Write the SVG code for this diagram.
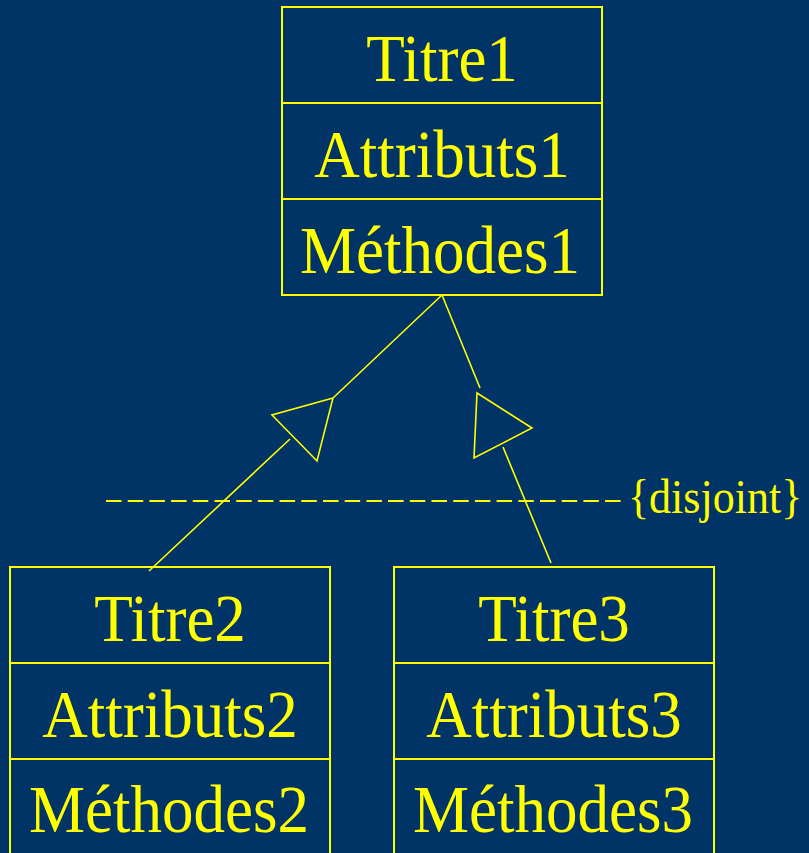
<svg xmlns="http://www.w3.org/2000/svg" width="809" height="853" viewBox="0 0 809 853">
  <style>
    .box { fill: none; stroke: #ffff00; stroke-width: 2; }
    .lbl { font-family: "Liberation Serif", "Times New Roman", serif; font-size: 63px; fill: #ffff00; text-anchor: middle; }
    .conn { fill: none; stroke: #ffff00; stroke-width: 1.6; }
    .dash { fill: none; stroke: #ffff00; stroke-width: 2.2; stroke-dasharray: 15.5 6.2; }
    .note { font-family: "Liberation Serif", "Times New Roman", serif; font-size: 44px; fill: #ffff00; }
  </style>
  <rect x="0" y="0" width="809" height="853" fill="#003366"/>

  <!-- Parent class -->
  <g id="class1">
    <rect class="box" x="282" y="7" width="320" height="288"/>
    <line class="box" x1="282" y1="103" x2="602" y2="103"/>
    <line class="box" x1="282" y1="199" x2="602" y2="199"/>
    <text class="lbl" transform="translate(442,81) scale(1,1.07)">Titre1</text>
    <text class="lbl" transform="translate(442,177) scale(1,1.07)">Attributs1</text>
    <text class="lbl" transform="translate(440,273) scale(1,1.07)">Méthodes1</text>
  </g>

  <!-- Subclass 2 -->
  <g id="class2">
    <rect class="box" x="10" y="567" width="320" height="300"/>
    <line class="box" x1="10" y1="663" x2="330" y2="663"/>
    <line class="box" x1="10" y1="759" x2="330" y2="759"/>
    <text class="lbl" transform="translate(170,641) scale(1,1.07)">Titre2</text>
    <text class="lbl" transform="translate(170,737) scale(1,1.07)">Attributs2</text>
    <text class="lbl" transform="translate(169,832) scale(1,1.07)">Méthodes2</text>
  </g>

  <!-- Subclass 3 -->
  <g id="class3">
    <rect class="box" x="394" y="567" width="320" height="300"/>
    <line class="box" x1="394" y1="663" x2="714" y2="663"/>
    <line class="box" x1="394" y1="759" x2="714" y2="759"/>
    <text class="lbl" transform="translate(554,641) scale(1,1.07)">Titre3</text>
    <text class="lbl" transform="translate(554,737) scale(1,1.07)">Attributs3</text>
    <text class="lbl" transform="translate(553,832) scale(1,1.07)">Méthodes3</text>
  </g>

  <!-- Generalization connectors -->
  <g id="connectors">
    <line class="conn" x1="442" y1="295" x2="333" y2="398"/>
    <polygon class="conn" points="333,398 272,415 317,461"/>
    <line class="conn" x1="290" y1="439" x2="149" y2="571"/>

    <line class="conn" x1="442" y1="295" x2="480" y2="388"/>
    <polygon class="conn" points="477,393 532,428 474,458"/>
    <line class="conn" x1="503" y1="447" x2="551" y2="563"/>

    <line class="dash" x1="106" y1="501" x2="624" y2="501"/>
  </g>

  <text class="note" transform="translate(628,513) scale(1,1.1)">{disjoint}</text>
</svg>
